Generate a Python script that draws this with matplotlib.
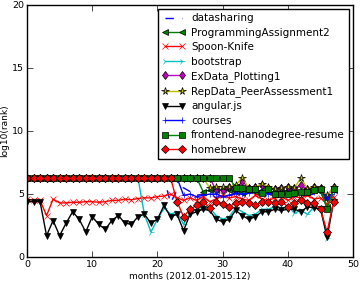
import matplotlib
matplotlib.use('Agg')
import matplotlib.pyplot as plt

plt.style.use('classic')
plt.rcParams['font.family'] = ['DejaVu Sans']
plt.rcParams['font.size'] = 7.5

H = 6.3  # value used for months without data
months = list(range(48))

datasharing = [H]*22 + [4.3, 5.3, 5.5, 5.2, 4.9, 5.0, 5.1, 4.7, 5.0, 4.9, 5.0, 4.8, 5.1, 4.9,
                        5.0, 4.8, 5.0, 4.9, 5.1, 4.8, 5.0, 4.9, 5.0, 5.1, 4.3, 5.0]
prog_assign2 = [H]*27 + [5.2, 5.3, 5.3, 5.4, 5.3, 5.2, 5.1, 5.3, 5.2, 5.3, 5.2, 5.1, 5.2, 5.3,
                         5.2, 5.1, 5.2, 5.3, 5.2, 4.0, 5.3]
spoon_knife = [4.6, 4.5, 4.5, 3.3, 4.6, 4.3, 4.3, 4.35, 4.35, 4.4, 4.4, 4.35, 4.4, 4.5, 4.5, 4.6,
               4.55, 4.65, 4.7, 4.7, 4.8, 4.85, 5.0, 4.7, 4.5, 4.7, 4.5, 4.8, 4.4, 4.6, 4.9, 4.7,
               4.8, 4.6, 4.5, 4.9, 4.6, 4.5, 4.7, 4.8, 4.5, 4.8, 4.7, 4.9, 4.6, 4.7, 4.2, 4.8]
bootstrap = [H]*18 + [3.4, 2.0, 3.0, 3.9, 3.4, 3.6, 2.6, 3.5, 3.8, 4.0, 3.9, 3.3, 3.0, 3.2, 3.9,
                      3.6, 3.3, 3.4, 3.8, 3.8, 4.0, 3.9, 4.0, 3.5, 3.7, 3.4, 4.0, 4.0, 1.5, 4.5]
exdata = [H]*29 + [5.3, 5.3, 5.6, 5.4, 6.0, 5.5, 5.6, 5.7, 5.5, 5.4, 5.5, 5.6, 5.5, 5.7, 5.4,
                   5.6, 5.5, 4.8, 5.6]
repdata = [H]*28 + [5.5, 5.6, 5.6, 5.6, 5.7, 6.3, 5.5, 5.6, 5.8, 5.6, 5.4, 5.5, 5.6, 5.5, 6.3,
                    5.4, 5.6, 5.5, 4.9, 5.6]
angular = [4.4, 4.4, 4.4, 1.7, 2.9, 1.7, 2.7, 3.6, 3.0, 2.0, 3.2, 2.6, 2.2, 2.9, 3.3, 2.7, 2.6,
           3.2, 3.4, 2.7, 3.0, 4.1, 3.2, 3.4, 2.1, 3.4, 3.6, 3.8, 3.7, 3.0, 2.8, 3.0, 3.7, 3.3,
           3.0, 3.2, 3.6, 3.6, 3.8, 3.7, 3.8, 3.8, 3.6, 4.0, 3.9, 3.8, 1.6, 4.4]
courses = [H]*24 + [4.9, 5.0, 4.8, 4.9, 5.0, 5.0, 4.8, 4.9, 5.1, 5.0, 5.1, 5.2, 5.2, 5.0, 5.1,
                    5.0, 5.1, 5.0, 5.0, 5.1, 5.2, 5.3, 4.6, 5.2]
frontend = [H]*32 + [5.5, 5.5, 5.4, 5.4, 5.1, 5.4, 5.0, 5.0, 5.0, 5.1, 5.2, 5.2, 5.3, 5.4, 3.8, 5.4]
homebrew = [H]*23 + [4.4, 3.2, 3.8, 4.1, 4.4, 3.9, 4.4, 4.2, 4.0, 4.3, 4.4, 4.3, 4.1, 4.4, 4.4,
                     4.3, 4.4, 4.0, 4.3, 4.5, 4.3, 4.3, 3.8, 2.0, 4.4]

fig = plt.figure(figsize=(3.6, 2.81), dpi=100)
ax = fig.add_axes([0.075, 0.085, 0.906, 0.897])

ms = 4.5
ax.plot(months, datasharing, 'b--', label='datasharing')
ax.plot(months, prog_assign2, 'g<-', ms=ms, label='ProgrammingAssignment2')
ax.plot(months, spoon_knife, 'rx-', ms=ms, label='Spoon-Knife')
ax.plot(months, bootstrap, 'c4-', ms=ms, label='bootstrap')
ax.plot(months, exdata, 'md-', ms=ms, label='ExData_Plotting1')
ax.plot(months, repdata, 'y*-', ms=ms + 1, label='RepData_PeerAssessment1')
ax.plot(months, angular, 'kv-', ms=ms, label='angular.js')
ax.plot(months, courses, 'b+-', ms=ms, label='courses')
ax.plot(months, frontend, 'gs-', ms=ms, label='frontend-nanodegree-resume')
ax.plot(months, homebrew, 'rD-', ms=ms, label='homebrew')

ax.set_xlim(0, 50)
ax.set_ylim(0, 20)
ax.set_xticks([0, 10, 20, 30, 40, 50])
ax.set_yticks([0, 5, 10, 15, 20])
ax.set_xlabel('months (2012.01-2015.12)', fontsize=6.5, labelpad=2)
ax.set_ylabel('log10(rank)', fontsize=6.5, labelpad=2)
ax.tick_params(labelsize=6.8, pad=2)
ax.legend(loc='upper right', fontsize=7.5, labelspacing=0.42, borderpad=0.4,
          handlelength=2.2, handletextpad=0.6, borderaxespad=0.4)

fig.savefig('out.png', dpi=100)
